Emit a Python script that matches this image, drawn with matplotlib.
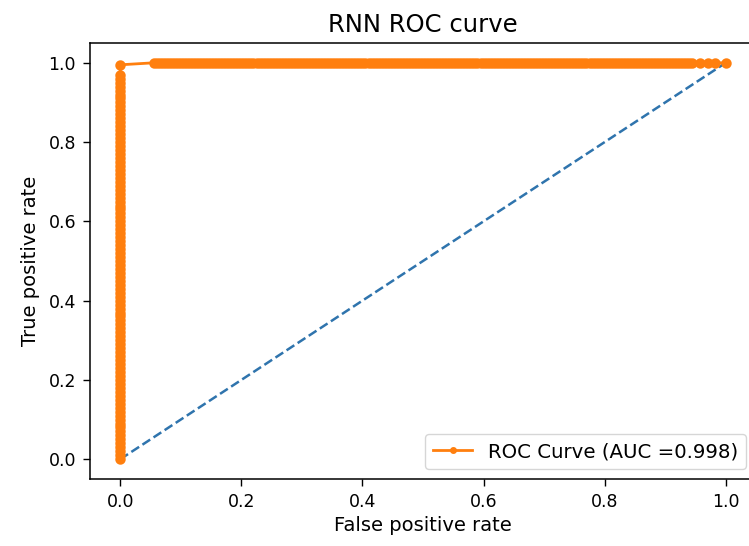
# RNN ROC curve

import matplotlib
matplotlib.use('Agg')
import matplotlib.pyplot as plt

# tpr values read along the fpr = 0 edge
tpr_at_zero_fpr = [0.00, 0.01, 0.02, 0.03, 0.04, 0.05, 0.06, 0.07, 0.08, 0.09,
                   0.10, 0.11, 0.12, 0.13, 0.14, 0.15, 0.16, 0.17, 0.18, 0.19,
                   0.20, 0.21, 0.22, 0.23, 0.24, 0.25, 0.26, 0.27, 0.28, 0.29,
                   0.30, 0.31, 0.32, 0.33, 0.34, 0.35, 0.36, 0.37, 0.38, 0.39,
                   0.40, 0.41, 0.42, 0.43, 0.44, 0.45, 0.46, 0.47, 0.48, 0.49,
                   0.50, 0.51, 0.52, 0.53, 0.54, 0.55, 0.56, 0.57, 0.58, 0.59,
                   0.60, 0.61, 0.62, 0.63, 0.64, 0.65, 0.66, 0.67, 0.68, 0.69,
                   0.70, 0.71, 0.72, 0.73, 0.74, 0.75, 0.76, 0.77, 0.78, 0.79,
                   0.80, 0.81, 0.82, 0.83, 0.84, 0.85, 0.86, 0.87, 0.88, 0.89,
                   0.90, 0.91, 0.92, 0.93, 0.94, 0.95, 0.96, 0.97, 0.995]

# fpr values read along the tpr = 1 edge
fpr_at_full_tpr = [0.055, 0.060, 0.065, 0.070, 0.075, 0.080, 0.085, 0.090, 0.095, 0.100,
                   0.105, 0.110, 0.115, 0.120, 0.125, 0.130, 0.135, 0.140, 0.145, 0.150,
                   0.155, 0.160, 0.165, 0.170, 0.175, 0.180, 0.185, 0.190, 0.195, 0.200,
                   0.205, 0.210, 0.215, 0.220, 0.225, 0.230, 0.235, 0.240, 0.245, 0.250,
                   0.255, 0.260, 0.265, 0.270, 0.275, 0.280, 0.285, 0.290, 0.295, 0.300,
                   0.305, 0.310, 0.315, 0.320, 0.325, 0.330, 0.335, 0.340, 0.345, 0.350,
                   0.355, 0.360, 0.365, 0.370, 0.375, 0.380, 0.385, 0.390, 0.395, 0.400,
                   0.405, 0.410, 0.415, 0.420, 0.425, 0.430, 0.435, 0.440, 0.445, 0.450,
                   0.455, 0.460, 0.465, 0.470, 0.475, 0.480, 0.485, 0.490, 0.495, 0.500,
                   0.505, 0.510, 0.515, 0.520, 0.525, 0.530, 0.535, 0.540, 0.545, 0.550,
                   0.555, 0.560, 0.565, 0.570, 0.575, 0.580, 0.585, 0.590, 0.595, 0.600,
                   0.605, 0.610, 0.615, 0.620, 0.625, 0.630, 0.635, 0.640, 0.645, 0.650,
                   0.655, 0.660, 0.665, 0.670, 0.675, 0.680, 0.685, 0.690, 0.695, 0.700,
                   0.705, 0.710, 0.715, 0.720, 0.725, 0.730, 0.735, 0.740, 0.745, 0.750,
                   0.755, 0.760, 0.765, 0.770, 0.775, 0.780, 0.785, 0.790, 0.795, 0.800,
                   0.805, 0.810, 0.815, 0.820, 0.825, 0.830, 0.835, 0.840, 0.845, 0.850,
                   0.855, 0.860, 0.865, 0.870, 0.875, 0.880, 0.885, 0.890, 0.895, 0.900,
                   0.905, 0.910, 0.915, 0.920, 0.925, 0.930, 0.935, 0.940, 0.945,
                   0.958, 0.970, 0.982, 1.0]

auc = 0.998
title = 'RNN ROC curve'

fpr = [0.0] * len(tpr_at_zero_fpr) + fpr_at_full_tpr
tpr = tpr_at_zero_fpr + [1.0] * len(fpr_at_full_tpr)

fig = plt.figure(figsize=(7.49, 5.46), dpi=100)
ax = fig.add_axes([90/749, 67/546, 666/749, 436/546])

ax.plot([0, 1], [0, 1], '--', color='#2f74ad', lw=1.8)
ax.plot(fpr, tpr, marker='.', color='#ff7f0e', lw=2, ms=10, mew=2.5,
        label='ROC Curve (AUC =%.3f)' % auc)

ax.set_xlim(-0.05, 1.05)
ax.set_ylim(-0.05, 1.05)
ax.set_xticks([0.0, 0.2, 0.4, 0.6, 0.8, 1.0])
ax.set_yticks([0.0, 0.2, 0.4, 0.6, 0.8, 1.0])
ax.tick_params(labelsize=12.5, length=5, width=1, pad=5)
for s in ax.spines.values():
    s.set_linewidth(1.1)

ax.set_xlabel('False positive rate', fontsize=14, labelpad=4)
ax.set_ylabel('True positive rate', fontsize=14, labelpad=6)
ax.set_title(title, fontsize=17.5, pad=8)
ax.legend(loc='lower right', fontsize=14.2, borderaxespad=0.5,
          markerscale=0.5)

fig.savefig('out.png', dpi=100)
